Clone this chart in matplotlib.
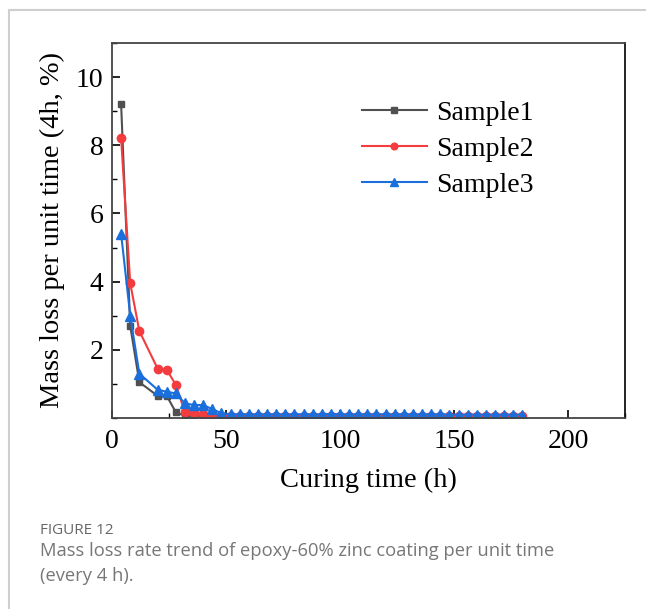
import matplotlib.pyplot as plt
from matplotlib.patches import Rectangle
from matplotlib.ticker import MultipleLocator

# curing time (h), every 4 h (16 h point missing in the source)
time_h = [4, 8, 12] + list(range(20, 181, 4))

sample1 = [9.2, 2.7, 1.05, 0.65, 0.65, 0.17, 0.06, 0.05, 0.05, 0.05,
           0.05, 0.04, 0.04, 0.04, 0.04, 0.04, 0.04, 0.04, 0.04, 0.04,
           0.04, 0.04, 0.04, 0.04, 0.04, 0.04, 0.04, 0.04, 0.04, 0.04,
           0.04, 0.04, 0.04, 0.04, 0.04, 0.04, 0.04, 0.04, 0.04, 0.04,
           0.04, 0.04, 0.04, 0.04]
sample2 = [8.2, 3.95, 2.55, 1.45, 1.42, 0.97, 0.17, 0.14, 0.13, 0.10,
           0.07, 0.06, 0.06, 0.06, 0.06, 0.06, 0.06, 0.06, 0.06, 0.06,
           0.06, 0.06, 0.06, 0.06, 0.06, 0.06, 0.06, 0.06, 0.06, 0.06,
           0.06, 0.06, 0.06, 0.06, 0.06, 0.06, 0.06, 0.06, 0.06, 0.05,
           0.05, 0.05, 0.05, 0.05]
sample3 = [5.4, 3.0, 1.3, 0.83, 0.77, 0.72, 0.43, 0.38, 0.38, 0.26,
           0.14, 0.11, 0.11, 0.11, 0.11, 0.11, 0.11, 0.11, 0.11, 0.11,
           0.11, 0.11, 0.12, 0.11, 0.11, 0.11, 0.11, 0.11, 0.11, 0.11,
           0.11, 0.11, 0.11, 0.11, 0.11, 0.10, 0.10, 0.10, 0.10, 0.10,
           0.10, 0.10, 0.10, 0.10]

series = [
    ("Sample1", sample1, "#505050", "s", 5),
    ("Sample2", sample2, "#f43c3f", "o", 6),
    ("Sample3", sample3, "#1a6fdc", "^", 6.5),
]

plt.rcParams['font.family'] = ['Liberation Serif', 'DejaVu Serif']

fig = plt.figure(figsize=(6.46, 6.09), dpi=100)

# card frame (light gray border, cropped on right and bottom)
fig.patches.append(Rectangle((9 / 646, -0.1), 1.2, 1 - 10 / 609 + 0.1,
                             transform=fig.transFigure, fill=False,
                             edgecolor="#cfcfcf", linewidth=1.5))

ax = fig.add_axes([112 / 646, 1 - 418 / 609, (625 - 112) / 646, (418 - 43) / 609])

for name, vals, col, mk, ms in series:
    ax.plot(time_h, vals, color=col, marker=mk, markersize=ms,
            linewidth=1.5, label=name)

ax.set_xlim(0, 225)
ax.set_ylim(0, 11)
ax.xaxis.set_major_locator(MultipleLocator(50))
ax.xaxis.set_minor_locator(MultipleLocator(25))
ax.set_yticks([2, 4, 6, 8, 10])
ax.yaxis.set_minor_locator(MultipleLocator(1))
ax.tick_params(axis='both', which='both', direction='in', labelsize=20,
               top=False, right=False)
ax.tick_params(which='major', length=6, width=1.2)
ax.tick_params(axis='x', which='major', pad=8)
ax.tick_params(axis='y', which='major', pad=6)
ax.tick_params(which='minor', length=3.5, width=1.0)
for s in ax.spines.values():
    s.set_linewidth(1.3)
    s.set_color("#444444")
ax.spines['right'].set_color("#111111")

ax.set_xlabel("Curing time (h)", fontsize=20.5, labelpad=10)
ax.set_ylabel("Mass loss per unit time (4h, %)", fontsize=20.5, labelpad=8)

leg = ax.legend(loc='upper left', bbox_to_anchor=(0.487, 0.846), frameon=False,
                fontsize=20, handlelength=2.35, handletextpad=0.33,
                labelspacing=0.38, markerscale=0.8, borderpad=0,
                borderaxespad=0)

fig.text(40 / 646, 1 - 530 / 609, "FIGURE 12", fontsize=11,
         family="Open Sans", color="#666666", va='center')
fig.text(40 / 646, 1 - 563.5 / 609,
         "Mass loss rate trend of epoxy-60% zinc coating per unit time\n(every 4 h).",
         fontsize=13.2, family="Open Sans", color="#777777", va='center',
         linespacing=1.57)

fig.savefig("out.png", dpi=100)
